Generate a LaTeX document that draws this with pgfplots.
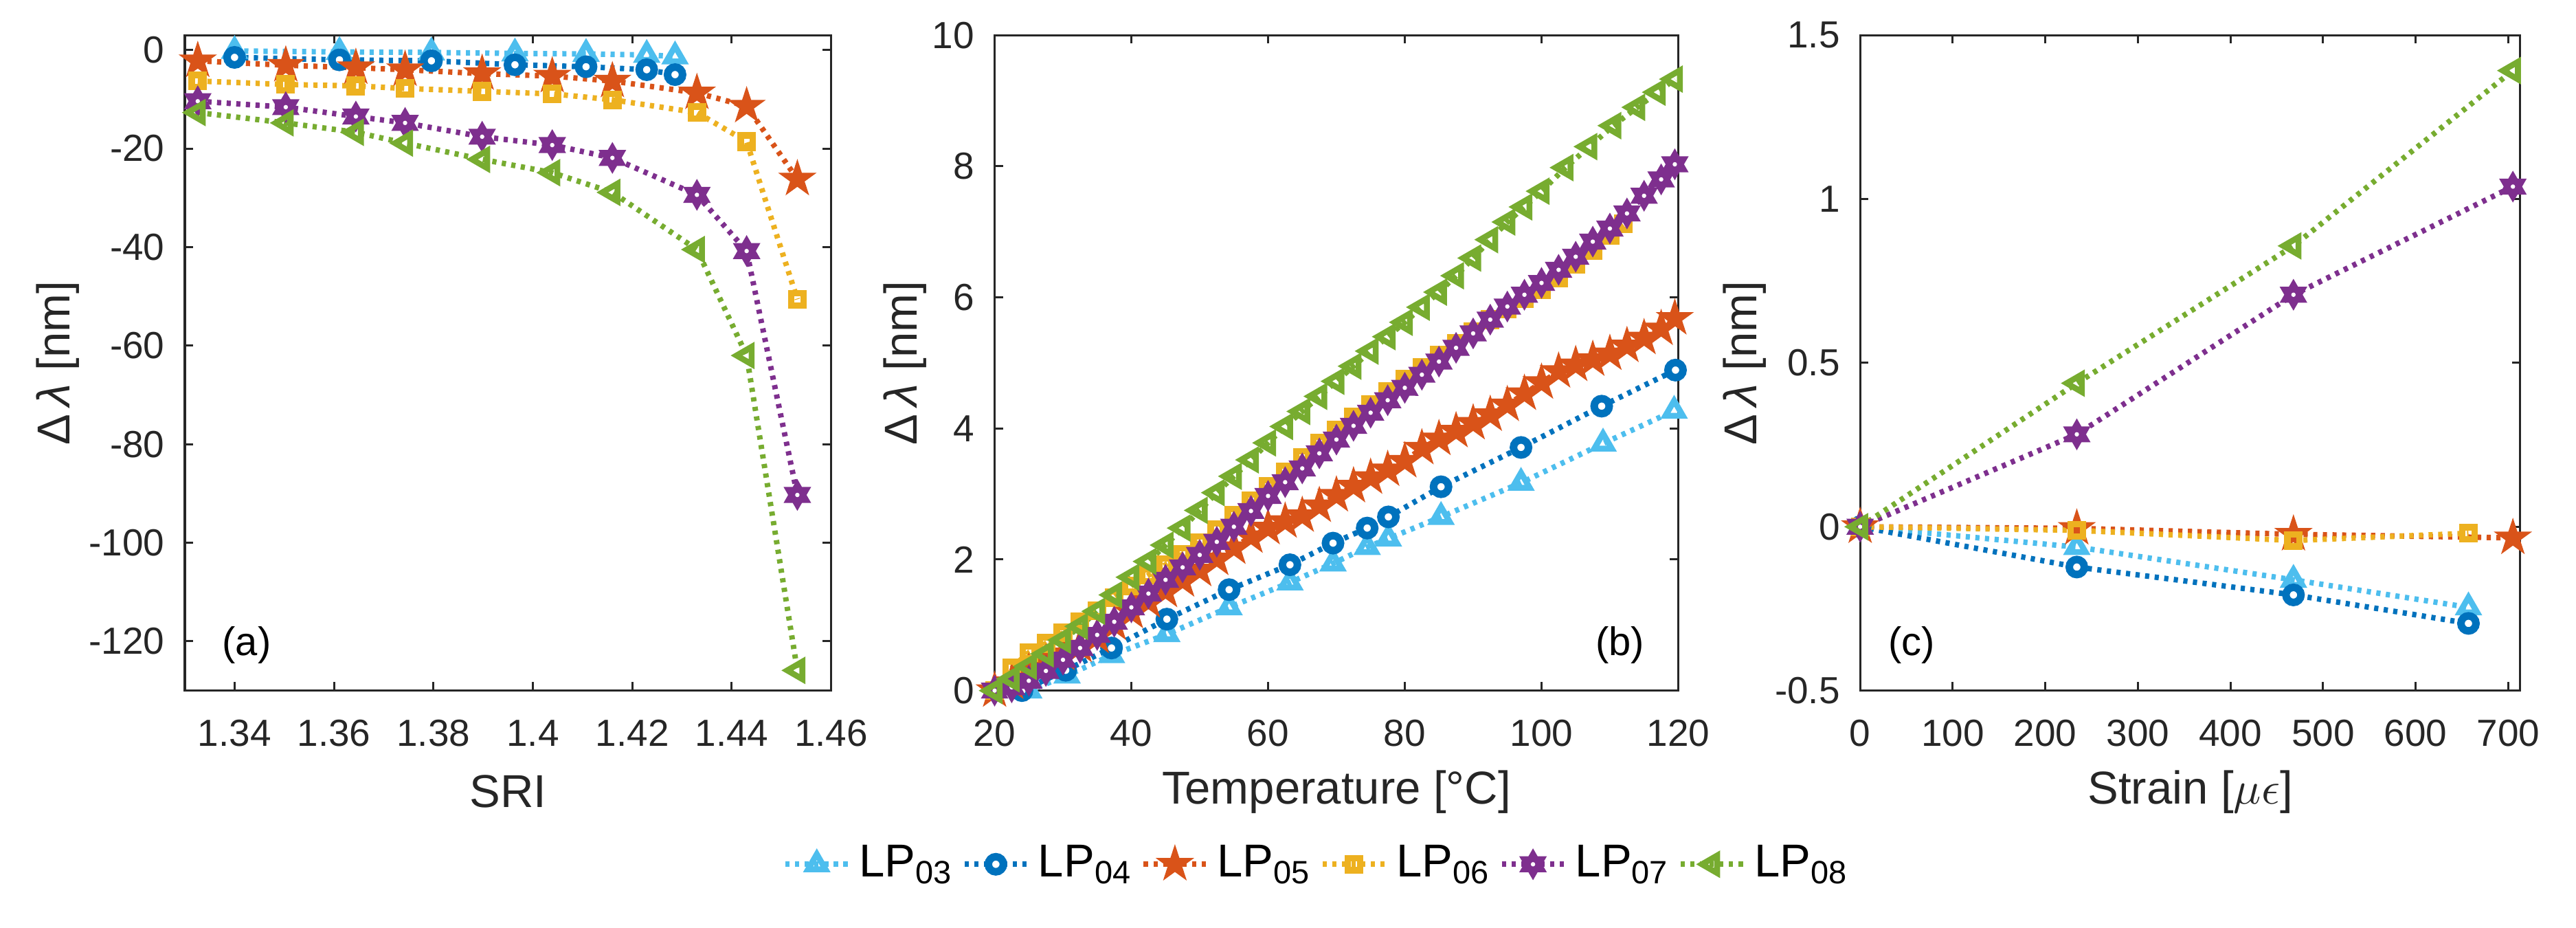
\documentclass[border=0pt]{standalone}
\usepackage{fontspec}
\setmainfont{Liberation Sans}
\usepackage{pgfplots}
\pgfplotsset{compat=1.18}
\definecolor{c1}{rgb}{0.301,0.745,0.933}
\definecolor{c2}{rgb}{0,0.447,0.741}
\definecolor{c3}{rgb}{0.85,0.325,0.098}
\definecolor{c4}{rgb}{0.929,0.694,0.125}
\definecolor{c5}{rgb}{0.494,0.184,0.556}
\definecolor{c6}{rgb}{0.466,0.674,0.188}
\definecolor{axgray}{rgb}{0.15,0.15,0.15}

\pgfdeclareplotmark{pentagram}{%
  \pgfpathmoveto{\pgfpointpolar{90}{\pgfplotmarksize}}%
  \pgfpathlineto{\pgfpointpolar{126}{0.382\pgfplotmarksize}}%
  \pgfpathlineto{\pgfpointpolar{162}{\pgfplotmarksize}}%
  \pgfpathlineto{\pgfpointpolar{198}{0.382\pgfplotmarksize}}%
  \pgfpathlineto{\pgfpointpolar{234}{\pgfplotmarksize}}%
  \pgfpathlineto{\pgfpointpolar{270}{0.382\pgfplotmarksize}}%
  \pgfpathlineto{\pgfpointpolar{306}{\pgfplotmarksize}}%
  \pgfpathlineto{\pgfpointpolar{342}{0.382\pgfplotmarksize}}%
  \pgfpathlineto{\pgfpointpolar{18}{\pgfplotmarksize}}%
  \pgfpathlineto{\pgfpointpolar{54}{0.382\pgfplotmarksize}}%
  \pgfpathclose
  \pgfusepathqfillstroke}
\pgfdeclareplotmark{hexagram}{%
  \pgfpathmoveto{\pgfpointpolar{90}{\pgfplotmarksize}}%
  \pgfpathlineto{\pgfpointpolar{120}{0.577\pgfplotmarksize}}%
  \pgfpathlineto{\pgfpointpolar{150}{\pgfplotmarksize}}%
  \pgfpathlineto{\pgfpointpolar{180}{0.577\pgfplotmarksize}}%
  \pgfpathlineto{\pgfpointpolar{210}{\pgfplotmarksize}}%
  \pgfpathlineto{\pgfpointpolar{240}{0.577\pgfplotmarksize}}%
  \pgfpathlineto{\pgfpointpolar{270}{\pgfplotmarksize}}%
  \pgfpathlineto{\pgfpointpolar{300}{0.577\pgfplotmarksize}}%
  \pgfpathlineto{\pgfpointpolar{330}{\pgfplotmarksize}}%
  \pgfpathlineto{\pgfpointpolar{0}{0.577\pgfplotmarksize}}%
  \pgfpathlineto{\pgfpointpolar{30}{\pgfplotmarksize}}%
  \pgfpathlineto{\pgfpointpolar{60}{0.577\pgfplotmarksize}}%
  \pgfpathclose
  \pgfusepathqfillstroke
  \begin{pgfscope}%
  \pgfpathcircle{\pgfpointorigin}{0.16\pgfplotmarksize}%
  \pgfsetfillcolor{white}%
  \pgfusepathqfill
  \end{pgfscope}}

\pgfplotsset{
  panel/.style={
    scale only axis, clip=false, height=156.3pt,
    axis line style={axgray, line width=0.5pt},
    every tick/.style={axgray, line width=0.5pt},
    major tick length=2pt, tick align=inside,
    ticklabel style={font=\fontsize{9}{10}\selectfont, text=axgray},
    xticklabel style={yshift=-3.5pt},
    yticklabel style={xshift=-1.3pt},
    label style={font=\fontsize{11}{13}\selectfont, text=axgray},
    x label style={at={(axis description cs:0.5,-0.1542)}, anchor=center},
    legend image code/.code={\draw[mark repeat=2,mark phase=2,##1] plot coordinates {(0pt,0pt) (7.45pt,0pt) (14.9pt,0pt)};},
  },
  dotline/.style={line width=1.3pt, dash pattern=on 1pt off 1.3pt},
  s1/.style={dotline, c1, mark=triangle, mark size=2.4pt, mark options={solid, fill=white, line width=1.4pt}},
  s2/.style={dotline, c2, mark=*, mark size=1.8pt, mark options={solid, fill=white, line width=1.8pt}},
  s3/.style={dotline, c3, mark=pentagram, mark size=4.0pt, mark options={solid, fill=c3, line width=0.5pt}},
  s4/.style={dotline, c4, mark=square, mark size=1.45pt, mark options={solid, fill=white, line width=1.55pt}},
  s5/.style={dotline, c5, mark=hexagram, mark size=3.3pt, mark options={solid, fill=c5, line width=0.5pt}},
  s6/.style={dotline, c6, mark=triangle, mark size=2.4pt, mark options={solid, fill=white, line width=1.4pt, rotate=90}},
}

\begin{document}
\begin{tikzpicture}
\path[use as bounding box] (0,0) rectangle (614.6pt,221.3pt);

% ---------------- (a) ----------------
\begin{axis}[panel, at={(44.1pt,56.6pt)}, anchor=south west, width=154.2pt,
  xmin=1.33, xmax=1.46, ymin=-130, ymax=3,
  xtick={1.34,1.36,1.38,1.4,1.42,1.44,1.46},
  xticklabels={1.34,1.36,1.38,1.4,1.42,1.44,1.46},
  ytick={-120,-100,-80,-60,-40,-20,0},
  yticklabels={-120,-100,-80,-60,-40,-20,0},
  xlabel={SRI}, ylabel={Δ\,\textit{λ} [nm]},
  y label style={at={(axis description cs:-0.197,0.5)}, anchor=center},
]
\addplot[s1] coordinates {(1.3400,-0.2)(1.3611,-0.4)(1.3796,-0.5)(1.3964,-0.7)(1.4107,-0.8)(1.4229,-1.0)(1.4286,-1.3)};
\addplot[s2] coordinates {(1.3400,-1.5)(1.3611,-2.0)(1.3796,-2.2)(1.3964,-3.0)(1.4107,-3.4)(1.4229,-4.0)(1.4286,-5.0)};
\addplot[s3] coordinates {(1.3326,-2.2)(1.3503,-3.1)(1.3644,-3.6)(1.3743,-4.0)(1.3898,-4.8)(1.4039,-5.3)(1.4160,-6.3)(1.4330,-8.7)(1.4430,-11.4)(1.4532,-26.2)};
\addplot[s4] coordinates {(1.3326,-6.3)(1.3503,-7.0)(1.3644,-7.3)(1.3743,-7.8)(1.3898,-8.4)(1.4039,-8.9)(1.4160,-10.1)(1.4330,-12.7)(1.4430,-18.6)(1.4532,-50.6)};
\addplot[s5] coordinates {(1.3326,-10.4)(1.3503,-11.6)(1.3644,-13.5)(1.3743,-14.8)(1.3898,-17.6)(1.4039,-19.3)(1.4160,-21.9)(1.4330,-29.4)(1.4430,-40.8)(1.4532,-90.3)};
\addplot[s6] coordinates {(1.3326,-12.7)(1.3503,-14.8)(1.3644,-16.7)(1.3743,-18.9)(1.3898,-22.2)(1.4039,-24.9)(1.4160,-28.9)(1.4330,-40.5)(1.4430,-62.0)(1.4532,-125.9)};
\node[font=\fontsize{9.5}{11}\selectfont] at (rel axis cs:0.0956,0.069) {(a)};
\end{axis}

% ---------------- (b) ----------------
\begin{axis}[panel, at={(237.3pt,56.6pt)}, anchor=south west, width=163.1pt,
  xmin=20, xmax=120, ymin=0, ymax=10,
  xtick={20,40,60,80,100,120}, xticklabels={20,40,60,80,100,120},
  ytick={0,2,4,6,8,10}, yticklabels={0,2,4,6,8,10},
  xlabel={Temperature [°C]}, ylabel={Δ\,\textit{λ} [nm]},
  y label style={at={(axis description cs:-0.1306,0.5)}, anchor=center},
  legend columns=6,
  legend style={at={(axis description cs:0.476,-0.265)}, anchor=center, draw=none, fill=none,
    font=\fontsize{11}{13}\selectfont, text=black,
    /tikz/every even column/.append style={column sep=0pt}},
  legend cell align=left,
]
\addplot[s1] coordinates {(25,0)(30.6,0.23)(37.1,0.54)(45.2,0.86)(54.3,1.27)(63.2,1.65)(69.5,1.94)(74.5,2.19)(77.6,2.32)(85.3,2.65)(97,3.17)(109,3.77)(119.4,4.27)};
\addlegendentry{LP\textsubscript{03}}
\addplot[s2] coordinates {(24,0)(30.4,0.31)(37.1,0.65)(45.2,1.09)(54.3,1.54)(63.2,1.92)(69.5,2.25)(74.5,2.48)(77.6,2.65)(85.3,3.11)(97,3.71)(108.8,4.34)(119.6,4.89)};
\addlegendentry{LP\textsubscript{04}}
\addplot[s3] coordinates {(20,0)(22.5,0.12)(25,0.28)(27.5,0.42)(30,0.56)(32.5,0.68)(35,0.82)(37.5,1.02)(40,1.20)(42.5,1.36)(45,1.52)(47.5,1.68)(50,1.84)(52.5,2.01)(55,2.18)(57.5,2.35)(60,2.48)(62.5,2.58)(65,2.67)(67.5,2.82)(70,2.98)(72.5,3.12)(75,3.25)(77.5,3.37)(80,3.50)(82.5,3.70)(85,3.84)(87.5,3.96)(90,4.08)(92.5,4.21)(95,4.36)(97.5,4.53)(100,4.70)(102.5,4.87)(105,4.97)(107.5,5.05)(110,5.14)(112.5,5.26)(115,5.38)(117.5,5.52)(119.5,5.68)};
\addlegendentry{LP\textsubscript{05}}
\addplot[s4] coordinates {(20,0)(22.5,0.35)(25,0.58)(27.5,0.72)(30,0.88)(32.5,1.05)(35,1.22)(37.5,1.42)(40,1.60)(42.5,1.76)(45,1.92)(47.5,2.08)(50,2.26)(52.5,2.46)(55,2.68)(57.5,2.90)(60,3.12)(62.5,3.34)(65,3.56)(67.5,3.78)(70,3.98)(72.5,4.17)(75,4.36)(77.5,4.56)(80,4.75)(82.5,4.93)(85,5.12)(87.5,5.30)(90,5.48)(92.5,5.66)(95,5.82)(97.5,5.98)(100,6.12)(102.5,6.30)(105,6.50)(107.5,6.72)(110,6.95)(112,7.12)};
\addlegendentry{LP\textsubscript{06}}
\addplot[s5] coordinates {(20,0)(22.5,0.05)(25,0.15)(27.5,0.30)(30,0.47)(32.5,0.65)(35,0.85)(37.5,1.05)(40,1.27)(42.5,1.48)(45,1.69)(47.5,1.88)(50,2.07)(52.5,2.27)(55,2.50)(57.5,2.74)(60,2.97)(62.5,3.18)(65,3.39)(67.5,3.62)(70,3.83)(72.5,4.04)(75,4.24)(77.5,4.43)(80,4.62)(82.5,4.82)(85,5.02)(87.5,5.23)(90,5.45)(92.5,5.66)(95,5.86)(97.5,6.04)(100,6.22)(102.5,6.42)(105,6.62)(107.5,6.85)(110,7.05)(112.5,7.28)(115,7.55)(117.5,7.80)(119.5,8.03)};
\addlegendentry{LP\textsubscript{07}}
\addplot[s6] coordinates {(20,0)(22.5,0.18)(25,0.37)(27.5,0.56)(30,0.77)(32.5,0.98)(35,1.21)(37.5,1.46)(40,1.73)(42.5,1.97)(45,2.22)(47.5,2.48)(50,2.75)(52.5,3.02)(55,3.27)(57.5,3.52)(60,3.78)(62.5,4.03)(65,4.26)(67.5,4.49)(70,4.72)(72.5,4.95)(75,5.18)(77.5,5.40)(80,5.62)(82.5,5.85)(85,6.08)(87.5,6.33)(90,6.60)(92.5,6.88)(95,7.15)(97.5,7.38)(100,7.62)(103.5,7.98)(107,8.30)(110.5,8.62)(114,8.90)(117,9.13)(119.5,9.33)};
\addlegendentry{LP\textsubscript{08}}
\node[font=\fontsize{9.5}{11}\selectfont] at (rel axis cs:0.9146,0.069) {(b)};
\end{axis}

% ---------------- (c) ----------------
\begin{axis}[panel, at={(443.8pt,56.6pt)}, anchor=south west, width=157.5pt,
  xmin=0, xmax=713, ymin=-0.5, ymax=1.5,
  xtick={0,100,200,300,400,500,600,700}, xticklabels={0,100,200,300,400,500,600,700},
  ytick={-0.5,0,0.5,1,1.5}, yticklabels={-0.5,0,0.5,1,1.5},
  xlabel={Strain [$\mu\epsilon$]}, ylabel={Δ\,\textit{λ} [nm]},
  y label style={at={(axis description cs:-0.1746,0.5)}, anchor=center},
]
\addplot[s1] coordinates {(0,0)(234,-0.062)(468,-0.162)(657,-0.246)};
\addplot[s2] coordinates {(0,0)(234,-0.123)(468,-0.208)(657,-0.295)};
\addplot[s3] coordinates {(0,0)(234,-0.005)(468,-0.023)(705,-0.034)};
\addplot[s4] coordinates {(0,0)(234,-0.011)(468,-0.042)(657,-0.020)};
\addplot[s5] coordinates {(0,0)(234,0.282)(468,0.708)(705,1.038)};
\addplot[s6] coordinates {(0,0)(234,0.438)(468,0.857)(705,1.392)};
\node[font=\fontsize{9.5}{11}\selectfont] at (rel axis cs:0.078,0.069) {(c)};
\end{axis}
\end{tikzpicture}
\end{document}
